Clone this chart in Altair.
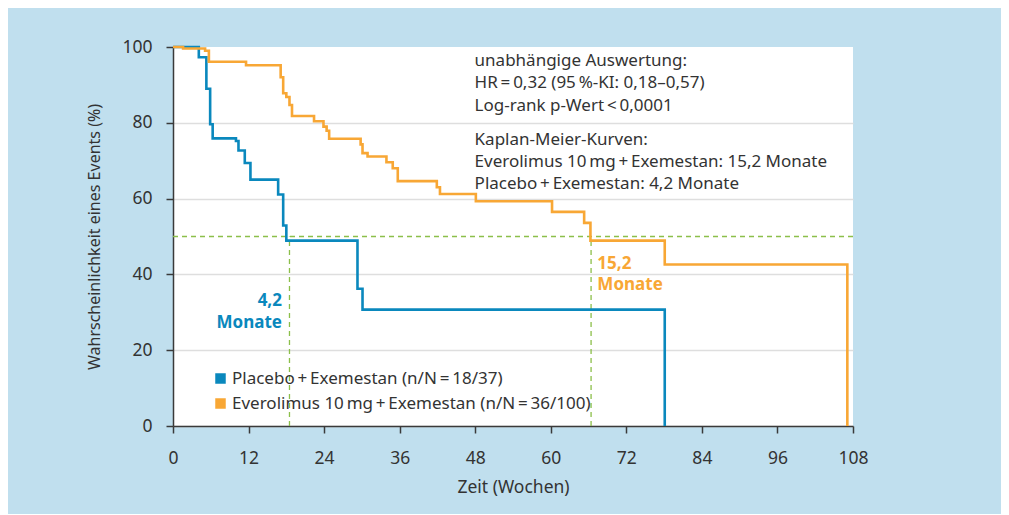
import altair as alt
import pandas as pd

# ---- data ----
placebo_label = "Placebo\u2009+\u2009Exemestan (n/N\u2009=\u200918/37)"
evero_label = "Everolimus 10\u2009mg\u2009+\u2009Exemestan (n/N\u2009=\u200936/100)"

weeks_placebo = [0, 4.1, 5.3, 5.9, 6.3, 10.0, 10.4, 11.4, 12.3, 16.7, 17.5, 18.0, 29.3, 30.1, 78.1]
surv_placebo = [100, 97.3, 89.0, 79.6, 75.9, 75.2, 72.7, 69.4, 65.0, 61.1, 52.9, 48.9, 36.2, 30.7, 0]

weeks_evero = [0, 1.6, 5.1, 5.7, 11.6, 17.1, 17.5, 18.0, 18.5, 18.9, 22.4, 23.9, 24.4, 24.8,
               29.8, 30.1, 30.9, 33.9, 34.9, 35.7, 41.9, 42.4, 48.1, 60.2, 65.3, 66.3, 78.1, 107.1]
surv_evero = [100, 99.6, 99.0, 96.1, 95.2, 92.0, 87.8, 86.8, 84.7, 81.8, 80.4, 79.0, 77.9, 75.8,
              74.3, 72.0, 71.1, 69.6, 68.0, 64.6, 63.0, 61.2, 59.3, 56.5, 53.6, 48.9, 42.6, 0]

median_weeks = [18.5, 66.4]
median_level = 50

x_ticks = list(range(0, 109, 6))
y_ticks = list(range(0, 101, 10))

stats_lines = ["unabhängige Auswertung:",
               "HR\u2009=\u20090,32 (95\u2009%-KI: 0,18–0,57)",
               "Log-rank p-Wert\u2009<\u20090,0001"]
km_lines = ["Kaplan-Meier-Kurven:",
            "Everolimus 10\u2009mg\u2009+\u2009Exemestan: 15,2 Monate",
            "Placebo\u2009+\u2009Exemestan: 4,2 Monate"]

BLUE = "#0a88bd"
ORANGE = "#f8a735"
GREEN = "#8cbf4a"
TEXT = "#333333"
FONT = "Noto Sans"

rows = []
for i, (t, s) in enumerate(zip(weeks_placebo, surv_placebo)):
    rows.append({"t": t, "s": s, "group": placebo_label, "i": i})
for i, (t, s) in enumerate(zip(weeks_evero, surv_evero)):
    rows.append({"t": t, "s": s, "group": evero_label, "i": i})
df = pd.DataFrame(rows)

xscale = alt.Scale(domain=[0, 108], nice=False, zero=True)
yscale = alt.Scale(domain=[0, 100], nice=False)
cscale = alt.Scale(domain=[placebo_label, evero_label], range=[BLUE, ORANGE])

x_axis = alt.Axis(values=x_ticks, labelExpr="datum.value % 12 == 0 ? datum.label : ''",
                  title="Zeit (Wochen)", grid=False, labelPadding=16, titlePadding=12,
                  labelFontSize=17.5, titleFontSize=17.5, labelFlush=False)
y_axis = alt.Axis(values=y_ticks, labelExpr="datum.value % 20 == 0 ? datum.label : ''",
                  title="Wahrscheinlichkeit eines Events (%)", grid=True,
                  gridColor={"condition": {"test": "datum.value === 100", "value": "transparent"},
                             "value": "#dedede"},
                  labelPadding=14, titlePadding=19, labelFontSize=17.5, titleFontSize=16,
                  labelFlush=False)

# white masks behind the annotation text blocks
masks = pd.DataFrame({"x": [47, 47], "x2": [108, 108], "y": [83, 62], "y2": [98, 78]})
mask_layer = alt.Chart(masks).mark_rect(color="white").encode(
    x=alt.X("x:Q", scale=xscale, axis=x_axis), x2="x2:Q",
    y=alt.Y("y:Q", scale=yscale, axis=y_axis), y2="y2:Q")

lines = alt.Chart(df).mark_line(interpolate="step-after", strokeWidth=2.6).encode(
    x=alt.X("t:Q", scale=xscale),
    y=alt.Y("s:Q", scale=yscale),
    order="i:Q",
    color=alt.Color("group:N", scale=cscale,
                    legend=alt.Legend(title=None, orient="none", legendX=39, legendY=323,
                                      symbolType="square", symbolSize=9, symbolStrokeWidth=7.5,
                                      symbolFillColor="transparent",
                                      labelFontSize=17, labelFont=FONT, labelColor=TEXT,
                                      rowPadding=-8, padding=0, labelOffset=3, labelLimit=600)),
)

hline = alt.Chart(pd.DataFrame({"y": [median_level]})).mark_rule(
    color=GREEN, strokeDash=[5, 4], strokeWidth=1.3).encode(
    x=alt.datum(0, scale=xscale), x2=alt.datum(108), y="y:Q")

vlines = alt.Chart(pd.DataFrame({"t": median_weeks, "lo": [0, 0], "hi": [median_level] * 2})).mark_rule(
    color=GREEN, strokeDash=[5, 4], strokeWidth=1.3).encode(
    x="t:Q", y="lo:Q", y2="hi:Q")

blue_txt = alt.Chart(pd.DataFrame({"t": [17.3], "s": [31.6], "txt": [["4,2", "Monate"]]})).mark_text(
    align="right", baseline="alphabetic", fontWeight="bold", fontSize=17, font=FONT,
    color=BLUE, lineHeight=22).encode(x="t:Q", y="s:Q", text="txt")

orange_txt = alt.Chart(pd.DataFrame({"t": [67.4], "s": [41.3], "txt": [["15,2", "Monate"]]})).mark_text(
    align="left", baseline="alphabetic", fontWeight="bold", fontSize=17, font=FONT,
    color=ORANGE, lineHeight=21).encode(x="t:Q", y="s:Q", text="txt")

stats_txt = alt.Chart(pd.DataFrame({"t": [47.9, 47.9], "s": [96.3, 75.5],
                                    "txt": [stats_lines, km_lines]})).mark_text(
    align="left", baseline="middle", fontSize=17, font=FONT, color=TEXT, lineHeight=22.3
).encode(x="t:Q", y="s:Q", text="txt")

chart = alt.layer(mask_layer, hline, vlines, lines, blue_txt, orange_txt, stats_txt).properties(
    width=680, height=379,
    background="#c0dfee",
    autosize=alt.AutoSizeParams(type="none"),
    padding={"left": 165, "top": 39, "right": 148, "bottom": 88},
).configure_view(fill="white", stroke=None).configure_axis(
    domainColor="#3a3a3a", domainWidth=1.5, tickColor="#3a3a3a", tickWidth=1.5, tickSize=7,
    labelColor=TEXT, titleColor=TEXT, labelFont=FONT, titleFont=FONT, titleFontWeight="normal",
    gridWidth=1.5,
)

chart.save("out.html", embed_options={"renderer": "svg", "actions": False})
